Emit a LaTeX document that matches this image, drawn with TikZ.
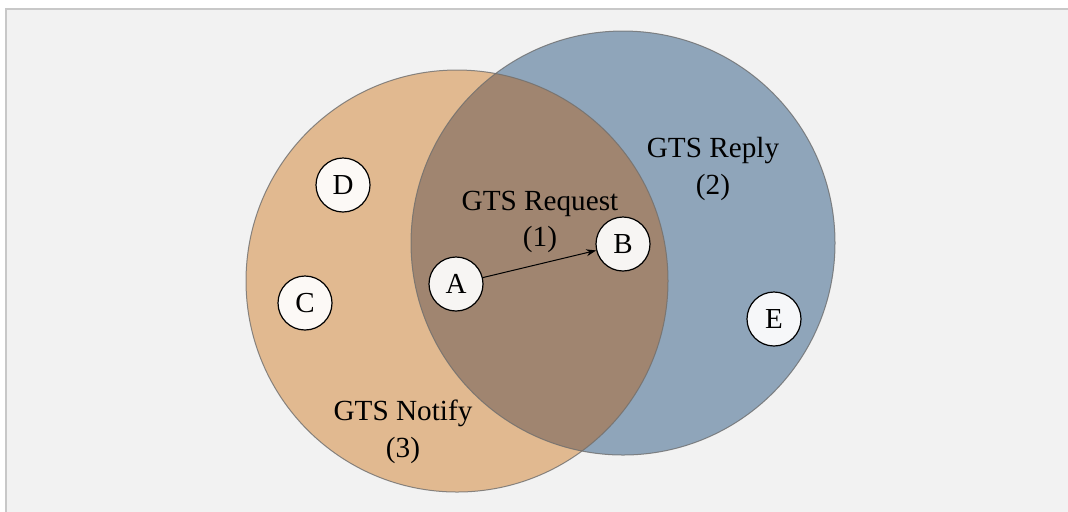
\documentclass[tikz,border=0pt]{standalone}
\usepackage{fontspec}
\setmainfont{Liberation Serif}
\usetikzlibrary{arrows.meta}
\definecolor{panelbg}{HTML}{F2F2F2}
\definecolor{panelrule}{HTML}{C8C8C8}
\definecolor{setorange}{HTML}{E1B990}
\definecolor{setblue}{HTML}{8FA5BA}
\definecolor{setboth}{HTML}{A08570}
\definecolor{setrim}{HTML}{6E6E6E}
\tikzset{
  member/.style={circle, draw=black, line width=0.6pt, fill=white, fill opacity=0.92,
                 text opacity=1, minimum size=27pt, inner sep=0pt, font=\fontsize{14.5}{17}\selectfont},
  setlabel/.style={align=center, font=\fontsize{14.6}{18.2}\selectfont},
  rim/.style={draw=setrim, line width=0.5pt, draw opacity=0.8}
}
\begin{document}
\begin{tikzpicture}[x=0.5pt,y=-0.5pt]
  \useasboundingbox (0,0) rectangle (1068,511);
  \fill[white] (0,0) rectangle (1068,511);
  \draw[panelrule, fill=panelbg, line width=0.8pt] (6,9) rectangle (1080,525);

  % the two sets and their intersection
  \coordinate (notifyc) at (457,281);
  \coordinate (replyc) at (623,243);
  \fill[setblue] (replyc) circle (212);
  \fill[setorange] (notifyc) circle (211);
  \begin{scope}
    \clip (replyc) circle (212);
    \fill[setboth] (notifyc) circle (211);
  \end{scope}
  \draw[rim] (replyc) circle (212);
  \draw[rim] (notifyc) circle (211);

  % members
  \node[member] (D) at (343,185) {D};
  \node[member] (C) at (305,303) {C};
  \node[member] (A) at (456,284) {A};
  \node[member] (B) at (623,244) {B};
  \node[member] (E) at (774,319) {E};

  \draw[-{Stealth[length=5pt,width=3.5pt]}, line width=0.5pt] (A) -- (B);

  % set labels
  \node[setlabel] (req) at (540,222) {GTS Request\\(1)};
  \node[setlabel] (rep) at (713,169) {GTS Reply\\(2)};
  \node[setlabel] (ntf) at (403,432) {GTS Notify\\(3)};
\end{tikzpicture}
\end{document}
